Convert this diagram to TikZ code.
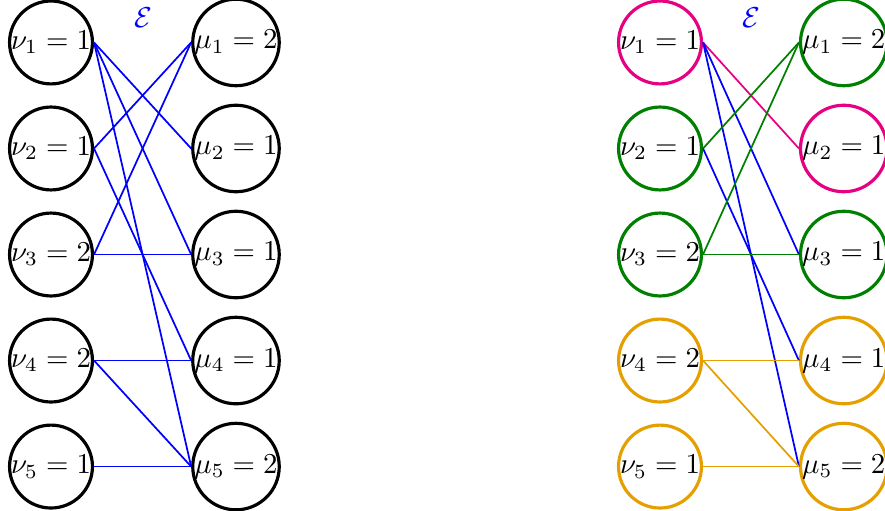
\documentclass[tikz,border=0pt]{standalone}
\usepackage{amsmath,amssymb}
\usepackage{xcolor}
\usepackage{tikz}
\usetikzlibrary{positioning}
\definecolor{pinkish}{RGB}{230,0,130}
\definecolor{darkgreen}{RGB}{0,128,0}
\definecolor{amber}{RGB}{230,159,0}

\begin{document}
\begin{tikzpicture}[
  vert/.style={draw, circle, inner sep=0pt, line width=1.1pt},
  edge/.style={semithick},
  elbl/.style={text=blue}
]
  \useasboundingbox (0,0) rectangle (10.793,-6.22);

  % left graph
  \foreach \i/\a/\b in {1/1/2, 2/1/1, 3/2/1, 4/2/1, 5/1/2} {
    \node[vert] (a\i) at (0.622, {-0.518-(\i-1)*1.293}) {$\nu_{\i}=\a$};
    \node[vert] (b\i) at (2.878, {-0.518-(\i-1)*1.293}) {$\mu_{\i}=\b$};
  }
  \node[elbl] (e1) at (1.75,-0.22) {$\mathcal{E}$};

  \draw[edge, blue] (a1.east) -- (b2.west);
  \draw[edge, blue] (a1.east) -- (b3.west);
  \draw[edge, blue] (a1.east) -- (b5.west);
  \draw[edge, blue] (a2.east) -- (b1.west);
  \draw[edge, blue] (a2.east) -- (b4.west);
  \draw[edge, blue] (a3.east) -- (b1.west);
  \draw[edge, blue] (a3.east) -- (b3.west);
  \draw[edge, blue] (a4.east) -- (b4.west);
  \draw[edge, blue] (a4.east) -- (b5.west);
  \draw[edge, blue] (a5.east) -- (b5.west);

  % right graph, coloured by component
  \foreach \i/\a/\b/\ca/\cb in {1/1/2/pinkish/darkgreen, 2/1/1/darkgreen/pinkish,
      3/2/1/darkgreen/darkgreen, 4/2/1/amber/amber, 5/1/2/amber/amber} {
    \node[vert, draw=\ca] (c\i) at (8.049, {-0.518-(\i-1)*1.293}) {$\nu_{\i}=\a$};
    \node[vert, draw=\cb] (d\i) at (10.29, {-0.518-(\i-1)*1.293}) {$\mu_{\i}=\b$};
  }
  \node[elbl] (e2) at (9.16,-0.22) {$\mathcal{E}$};

  \draw[edge, pinkish]   (c1.east) -- (d2.west);
  \draw[edge, blue]      (c1.east) -- (d3.west);
  \draw[edge, blue]      (c1.east) -- (d5.west);
  \draw[edge, darkgreen] (c2.east) -- (d1.west);
  \draw[edge, blue]      (c2.east) -- (d4.west);
  \draw[edge, darkgreen] (c3.east) -- (d1.west);
  \draw[edge, darkgreen] (c3.east) -- (d3.west);
  \draw[edge, amber]     (c4.east) -- (d4.west);
  \draw[edge, amber]     (c4.east) -- (d5.west);
  \draw[edge, amber]     (c5.east) -- (d5.west);
\end{tikzpicture}
\end{document}
